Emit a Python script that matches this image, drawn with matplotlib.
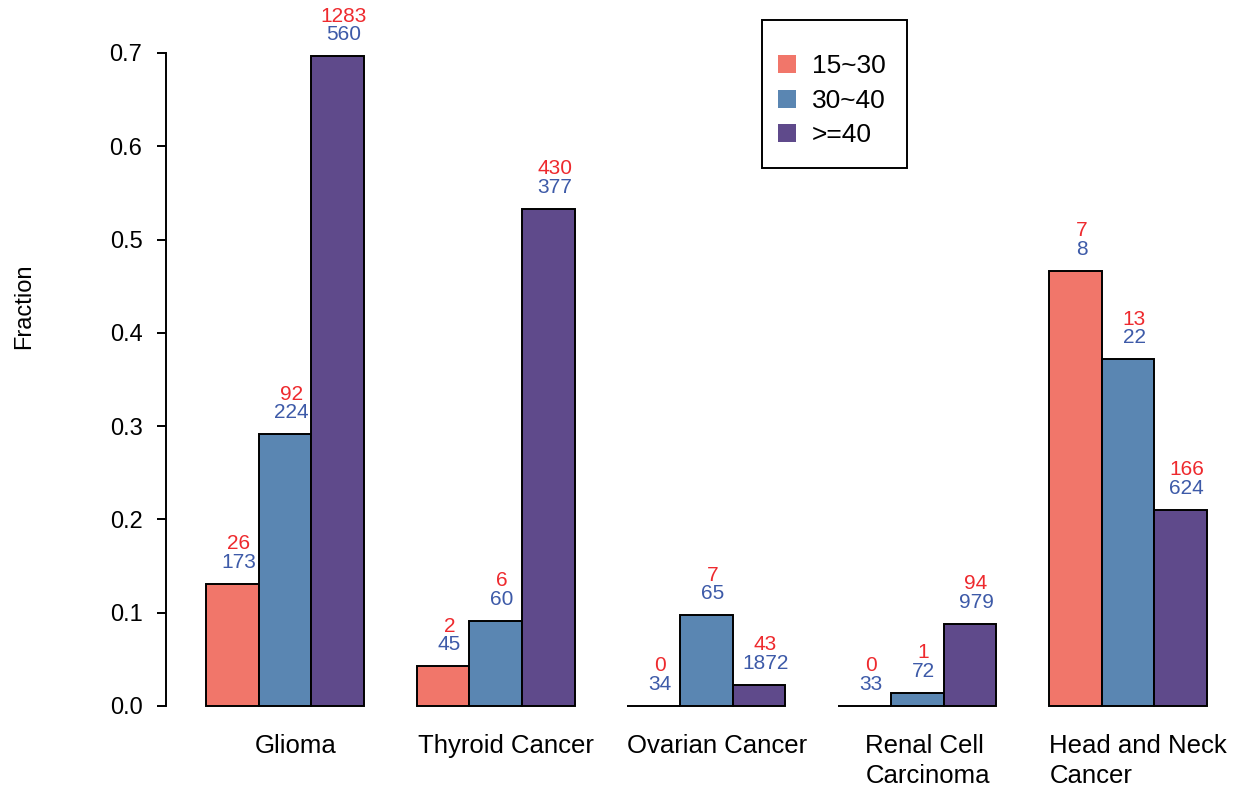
import matplotlib
matplotlib.use("Agg")
import matplotlib.pyplot as plt
from matplotlib.patches import Rectangle
import numpy as np

plt.rcParams['font.family'] = ['Liberation Sans', 'DejaVu Sans']

categories = ["Glioma", "Thyroid Cancer", "Ovarian Cancer", "Renal Cell\nCarcinoma", "Head and Neck\nCancer"]
groups = ["15~30", "30~40", ">=40"]
# counts shown above bars (red = top number, blue = bottom number)
red_counts = [[26, 92, 1283], [2, 6, 430], [0, 7, 43], [0, 1, 94], [7, 13, 166]]
blue_counts = [[173, 224, 560], [45, 60, 377], [34, 65, 1872], [33, 72, 979], [8, 22, 624]]
yticks = [0.0, 0.1, 0.2, 0.3, 0.4, 0.5, 0.6, 0.7]
ytick_labels = ["0.0", "0.1", "0.2", "0.3", "0.4", "0.5", "0.6", "0.7"]

bar_colors = ["#F1766A", "#5A86B2", "#5F4A8B"]
red_text = "#EE2A2E"
blue_text = "#3D5AA8"

W, H = 1236, 789
fig = plt.figure(figsize=(W / 100, H / 100), dpi=100)

# pixel geometry
px_per_unit = 52.68
x_data0_px = 206 - px_per_unit  # pixel of x=0 in data units
ax_left_px, ax_right_px = 166, 1236
y0_px, px_per_y = 706, 933.0
ax_top_px, ax_bot_px = 20, 740

ax = fig.add_axes([ax_left_px / W, 1 - ax_bot_px / H,
                   (ax_right_px - ax_left_px) / W, (ax_bot_px - ax_top_px) / H])
ax.set_xlim((ax_left_px - x_data0_px) / px_per_unit, (ax_right_px - x_data0_px) / px_per_unit)
ax.set_ylim(-(ax_bot_px - y0_px) / px_per_y, (y0_px - ax_top_px) / px_per_y)

fs_count = 15
fs_tick = 17
fs_cat = 18.5
fs_leg = 19
for gi, cat in enumerate(categories):
    start = 1 + gi * 4
    for si in range(3):
        r = red_counts[gi][si]
        b = blue_counts[gi][si]
        frac = r / (r + b)
        x = start + si
        ax.bar(x, frac, width=1, align='edge', color=bar_colors[si],
               edgecolor='black', linewidth=1.4, clip_on=False, zorder=3)
        cx = x + 0.5
        ax.annotate(str(b), (cx, frac), xytext=(4.5, 15.5), textcoords='offset points',
                    ha='center', va='center', color=blue_text, fontsize=fs_count,
                    annotation_clip=False)
        ax.annotate(str(r), (cx, frac), xytext=(4.5, 29.0), textcoords='offset points',
                    ha='center', va='center', color=red_text, fontsize=fs_count,
                    annotation_clip=False)
    # category label
    ax.annotate(cat, (start + 1.5, 0), xycoords=('data', 'axes fraction'),
                xytext=(7.5, -(734 - ax_bot_px) * 0.72), textcoords='offset points',
                ha='center', va='top', multialignment='left', fontsize=fs_cat,
                linespacing=1.32, annotation_clip=False)

for s in ['top', 'right', 'bottom']:
    ax.spines[s].set_visible(False)
ax.spines['left'].set_bounds(0, 0.7)
ax.spines['left'].set_linewidth(1.4)
ax.set_yticks(yticks)
ax.set_yticklabels(ytick_labels)
ax.tick_params(axis='y', length=6.5, width=1.4, pad=10.5, labelsize=fs_tick)
ax.set_xticks([])

fig.text(24 / W, 1 - 306 / H, "Fraction", rotation=90, ha='center', va='center', fontsize=fs_tick)

# legend
def fpx(x, y):
    return (x / W, 1 - y / H)

lx0, ly0, lx1, ly1 = 762, 20, 907, 168
fig.patches.append(Rectangle(fpx(lx0, ly1), (lx1 - lx0) / W, (ly1 - ly0) / H,
                             transform=fig.transFigure, facecolor='white',
                             edgecolor='black', linewidth=1.4))
row_y = [64, 99, 133]
for i, g in enumerate(groups):
    sq = 18
    fig.patches.append(Rectangle(fpx(778, row_y[i] + sq / 2), sq / W, sq / H,
                                 transform=fig.transFigure, facecolor=bar_colors[i],
                                 edgecolor='none'))
    fig.text(*fpx(812, row_y[i] + 2), g, ha='left', va='center', fontsize=fs_leg)

fig.savefig("out.png", dpi=100)
